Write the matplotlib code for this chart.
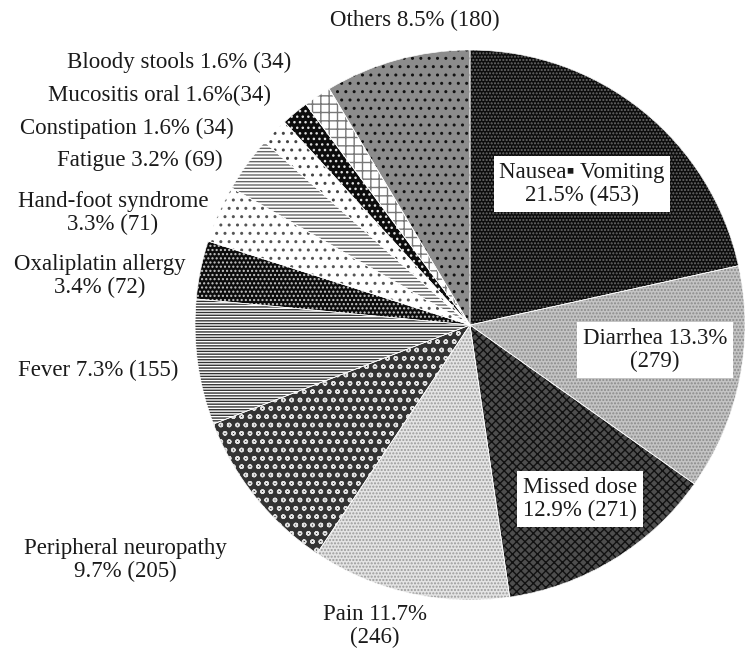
import matplotlib.pyplot as plt

plt.rcParams['font.family'] = ['Liberation Serif', 'DejaVu Serif']
plt.rcParams['hatch.linewidth'] = 1.0

# categories, clockwise from 12 o'clock
categories = ['Nausea\u25aa Vomiting', 'Diarrhea', 'Missed dose', 'Pain',
              'Peripheral neuropathy', 'Fever', 'Oxaliplatin allergy',
              'Hand-foot syndrome', 'Fatigue', 'Constipation',
              'Mucositis oral', 'Bloody stools', 'Others']
counts = [453, 279, 271, 246, 205, 155, 72, 71, 69, 34, 34, 34, 180]
pct_text = ['21.5%', '13.3%', '12.9%', '11.7%', '9.7%', '7.3%', '3.4%',
            '3.3%', '3.2%', '1.6%', '1.6%', '1.6%', '8.5%']

# fill, hatch colour, hatch pattern for each slice
faces = ['#0c0c0c', '#c4c4c4', '#4e4e4e', '#e4e4e4', '#333333', '#ffffff',
         '#0c0c0c', '#ffffff', '#ffffff', '#ffffff', '#0c0c0c', '#ffffff', '#8c8c8c']
hcols = ['#6a6a6a', '#8a8a8a', '#111111', '#9a9a9a', '#e0e0e0', '#333333',
         '#c8c8c8', '#555555', '#666666', '#444444', '#e0e0e0', '#777777', '#111111']
hatches = ['.....', '.....', 'xxxx', '.....', 'oo', '------', '....',
           '..', '-----', '..', '...', '++', '..']

# label text and where it sits (pixel centre in the 750x660 figure)
label_text = [
    'Nausea\u25aa Vomiting\n21.5% (453)',
    'Diarrhea 13.3%\n(279)',
    'Missed dose\n12.9% (271)',
    'Pain 11.7%\n(246)',
    'Peripheral neuropathy\n9.7% (205)',
    'Fever 7.3% (155)',
    'Oxaliplatin allergy\n3.4% (72)',
    'Hand-foot syndrome\n3.3% (71)',
    'Fatigue 3.2% (69)',
    'Constipation 1.6% (34)',
    'Mucositis oral 1.6%(34)',
    'Bloody stools 1.6% (34)',
    'Others 8.5% (180)',
]
label_px = [(582, 184), (655, 350), (580, 499), (375, 626), (125, 560),
            (98, 370), (100, 276), (113, 213), (140, 160), (127, 128),
            (159, 95), (179, 62), (415, 20)]
boxed = [True, True, True] + [False] * 10

W, H = 750, 660
fig = plt.figure(figsize=(W / 100, H / 100), dpi=100)
cx, cy, r = 470, 325, 275
ax = fig.add_axes([(cx - r) / W, (H - cy - r) / H, 2 * r / W, 2 * r / H])

wedges, _ = ax.pie(counts, startangle=90, counterclock=False, radius=1,
                   wedgeprops=dict(linewidth=0))
for w, fc, hc, hp in zip(wedges, faces, hcols, hatches):
    w.set_facecolor(fc)
    w.set_edgecolor(hc)
    w.set_hatch(hp)
    w.set_linewidth(0)

# faint separators between slices
ax.pie(counts, startangle=90, counterclock=False, radius=1,
       wedgeprops=dict(facecolor='none', edgecolor='white', linewidth=0.5))
ax.set_xlim(-1, 1)
ax.set_ylim(-1, 1)
ax.axis('off')

for txt, (px, py), b in zip(label_text, label_px, boxed):
    x = (px - cx) / r
    y = (cy - py) / r
    kw = {}
    if b:
        kw['bbox'] = dict(facecolor='white', edgecolor='none', pad=4)
    ax.text(x, y, txt, ha='center', va='center', fontsize=16.5,
            color='#1a1a1a', linespacing=1.12, clip_on=False, **kw)

fig.savefig('out.png', dpi=100, facecolor='white')
